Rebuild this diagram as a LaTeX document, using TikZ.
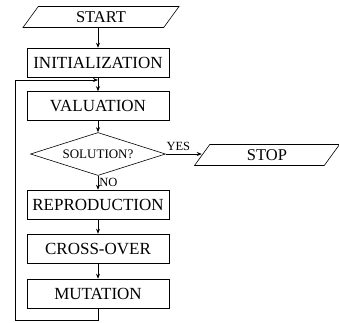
\documentclass[tikz,border=0pt]{standalone}
\usepackage{fontspec}
\setmainfont{Liberation Serif}
\usetikzlibrary{shapes.geometric,arrows.meta}
\begin{document}
\begin{tikzpicture}[x=1pt, y=-1pt, line width=0.6pt,
		box/.style={rectangle,draw,minimum width=142pt,minimum height=29pt,inner sep=0pt,font=\fontsize{17}{20}\selectfont},
		io/.style={trapezium,draw,trapezium left angle=36,trapezium right angle=144,trapezium stretches body=true,minimum height=21pt,inner sep=0pt,font=\fontsize{16.5}{19}\selectfont},
		test/.style={diamond,draw,aspect=3.1,minimum width=135pt,minimum height=43pt,inner sep=0pt,font=\fontsize{13}{15}\selectfont},
		lbl/.style={font=\fontsize{12.5}{14}\selectfont},
		arr/.style={-{Stealth[length=5pt,width=4pt]}}
		]
	\useasboundingbox (0,0) rectangle (339,322);
	\node [io,minimum width=156pt] (start) at (101,17) {START};
	\node [box] (init) at (98,62.5) {INITIALIZATION};
	\node [box] (val) at (98,106) {VALUATION};
	\node [test] (sol) at (98,154) {SOLUTION?};
	\node [io,minimum width=145pt] (stop) at (267,155) {STOP};
	\node [box] (rep) at (98,204.5) {REPRODUCTION};
	\node [box] (cross) at (98,248.5) {CROSS-OVER};
	\node [box] (mut) at (98,293.5) {MUTATION};
	\coordinate (join) at (98,80);
	\coordinate (corner) at (15,320);
	\draw [arr] (init.north |- start.south) -- (init);
	\draw [arr] (init) -- (val);
	\draw [arr] (val) -- (sol);
	\draw [arr] (sol.east) -- (sol.east -| stop.west) node [lbl,pos=0.35,above] {YES};
	\draw [arr] (sol) -- (rep) node [lbl,midway,right,inner sep=1pt] {NO};
	\draw [arr] (rep) -- (cross);
	\draw [arr] (cross) -- (mut);
	\draw [arr] (mut.south) |- (corner) |- (join);
\end{tikzpicture}
\end{document}
